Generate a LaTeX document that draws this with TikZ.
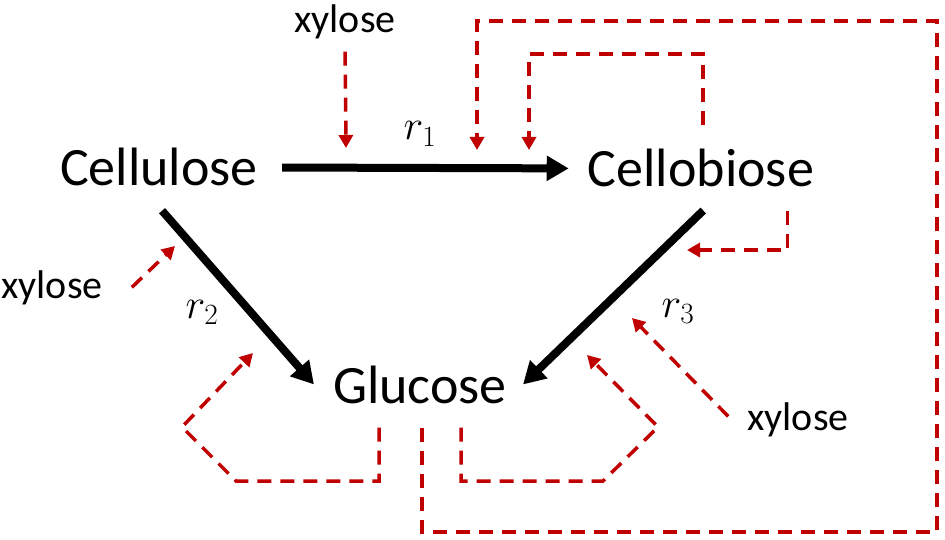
\documentclass[tikz,border=0pt]{standalone}
\usepackage{fix-cm}
\usepackage{fontspec}
\setmainfont{Carlito}
\usetikzlibrary{arrows.meta}
\definecolor{fbred}{RGB}{192,0,0}
\begin{document}
\begin{tikzpicture}[x=1pt,y=-1pt,
        species/.style={inner sep=0pt, anchor=base, font=\fontsize{54}{60}\selectfont},
        xyl/.style={inner sep=0pt, anchor=base, font=\fontsize{40}{48}\selectfont},
        rate/.style={inner sep=0pt, anchor=base, font=\fontsize{42}{48}\selectfont},
        react/.style={line width=8pt, -{Triangle[length=22pt,width=24pt]}},
        fb/.style={fbred, line width=3.5pt, dash pattern=on 14pt off 9pt, -{Triangle[length=13pt,width=14pt]}}]
            \useasboundingbox (0,0) rectangle (945,540);

            \node[species] (cellulose) at (159,186) {Cellulose};
            \node[species] (cellobiose) at (701,187) {Cellobiose};
            \node[species] (glucose) at (420,403) {Glucose};
            \node[xyl] (xyl1) at (345,33) {xylose};
            \node[xyl] (xyl2) at (52,298) {xylose};
            \node[xyl] (xyl3) at (798,430) {xylose};
            \node[rate] (r1) at (420,140) {$r_1$};
            \node[rate] (r2) at (202,318) {$r_2$};
            \node[rate] (r3) at (678,317) {$r_3$};

            \coordinate (t1) at (346,148);
            \coordinate (t2) at (477,150);
            \coordinate (t3) at (529,150);
            \coordinate (t4) at (687,250);
            \coordinate (t5) at (632,318);
            \coordinate (t6) at (587,355);
            \coordinate (t7) at (253,353);
            \coordinate (t8) at (175,246);

            \draw[react, shorten <=24pt, shorten >=19pt] (cellulose.east) -- (cellobiose.west);
            \draw[react, shorten <=32pt] ([xshift=-18pt]cellulose.south) -- ([xshift=-19pt]glucose.west);
            \draw[react, shorten <=33pt] ([xshift=26pt]cellobiose.south) -- ([xshift=16pt]glucose.east);

            \draw[fb, shorten <=12pt] (xyl1.south) -- (t1);
            \draw[fb] ([xshift=29pt]xyl2.east) -- (t8);
            \draw[fb] ([shift={(-19pt,3pt)}]xyl3.west) -- (t5);

            \draw[fb] ([xshift=2pt,yshift=-24pt]glucose.south) |- (937,532) |- (477,21) -- (t2);
            \draw[fb] ([xshift=2pt,yshift=24pt]cellobiose.north) -- (703,54) -| (t3);
            \draw[fb] ([xshift=-27pt,yshift=-23pt]cellobiose.south east) |- (t4);
            \draw[fb] ([xshift=41pt,yshift=-24pt]glucose.south) |- (603,481) -- (658,427) -- (t6);
            \draw[fb] ([xshift=-41pt,yshift=-24pt]glucose.south) |- (236,481) -- (182,427) -- (t7);
        \end{tikzpicture}
\end{document}
